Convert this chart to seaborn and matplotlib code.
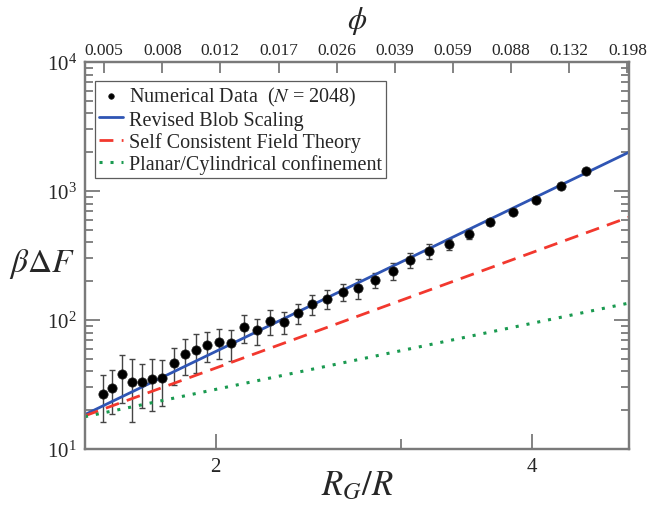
import matplotlib
matplotlib.use("Agg")
import matplotlib.pyplot as plt
import seaborn as sns
import numpy as np
import pandas as pd
from matplotlib.ticker import FixedLocator, NullLocator, FixedFormatter, NullFormatter, LogLocator

# ---------------- data ----------------
rg_r = [1.562, 1.595, 1.629, 1.664, 1.701, 1.740, 1.779, 1.825, 1.869, 1.916,
        1.962, 2.016, 2.068, 2.128, 2.188, 2.251, 2.321, 2.395, 2.470, 2.552,
        2.641, 2.733, 2.837, 2.947, 3.062, 3.190, 3.333, 3.485, 3.648, 3.832,
        4.033, 4.257, 4.499]
dF = [26.7, 29.7, 38.1, 33.1, 33.1, 34.7, 35.3, 46.2, 54.5, 58.5,
      63.7, 67.9, 66.3, 87.8, 83.2, 98.2, 96.5, 112.7, 133.0, 146.3,
      165.4, 176.1, 204.2, 238.5, 293.4, 344.5, 388.2, 466.7, 578.1, 687.5,
      851.5, 1087.5, 1421.0]
dF_err = [10.6, 11.0, 15.5, 17.0, 12.3, 15.0, 13.7, 15.0, 17.0, 20.0,
          16.6, 18.0, 18.0, 22.0, 19.0, 22.0, 19.0, 20.0, 23.0, 25.0,
          26.0, 30.0, 27.0, 36.0, 40.0, 45.0, 38.0, 40.0, 30.0, 28.0,
          30.0, 30.0, 35.0]

line_x = [1.502, 4.946]
blob_y = [18.5, 2005.0]
scft_y = [18.1, 628.0]
planar_y = [17.8, 135.5]

phi_labels = ["0.005", "0.008", "0.012", "0.017", "0.026", "0.039",
              "0.059", "0.088", "0.132", "0.198"]
phi_pos = [1.566, 1.779, 2.020, 2.295, 2.606, 2.960, 3.362, 3.819, 4.337, 4.926]

legend_labels = ["Numerical Data  ($N$ = 2048)", "Revised Blob Scaling",
                 "Self Consistent Field Theory", "Planar/Cylindrical confinement"]

# ---------------- style ----------------
sns.set_style("ticks")
plt.rcParams["font.family"] = ["Liberation Serif", "DejaVu Serif"]
plt.rcParams["mathtext.fontset"] = "stix"

frame_col = "#7a7a7a"
fig = plt.figure(figsize=(6.52, 5.06), dpi=100)
ax = fig.add_axes([85/652, 56/506, 544.3/652, 387/506])

df = pd.DataFrame({"x": rg_r, "y": dF, "err": dF_err})
lines = pd.DataFrame({"x": line_x, "blob": blob_y, "scft": scft_y, "planar": planar_y})

ax.errorbar(df["x"], df["y"], yerr=df["err"], fmt="none", ecolor="#444444",
            elinewidth=1.0, capsize=2.5, capthick=1.0, zorder=2)
sns.lineplot(data=lines, x="x", y="blob", ax=ax, color="#2f55b4", lw=2.0,
             label=legend_labels[1], zorder=3)
sns.lineplot(data=lines, x="x", y="scft", ax=ax, color="#f2382e", lw=2.0,
             label=legend_labels[2], zorder=3)
sns.lineplot(data=lines, x="x", y="planar", ax=ax, color="#1a9a50", lw=2.2,
             label=legend_labels[3], zorder=3)
ax.lines[-2].set_dashes([5, 3])
ax.lines[-1].set_dashes([1, 2.6])
sns.scatterplot(data=df, x="x", y="y", ax=ax, color="black", s=45,
                edgecolor="#222222", linewidth=0.5, zorder=4,
                label=legend_labels[0])

ax.set_xscale("log")
ax.set_yscale("log")
ax.set_xlim(line_x[0], line_x[1])
ax.set_ylim(10, 1e4)

ax.xaxis.set_major_locator(FixedLocator([2, 4]))
ax.xaxis.set_major_formatter(FixedFormatter(["2", "4"]))
ax.xaxis.set_minor_locator(FixedLocator([3]))
ax.xaxis.set_minor_formatter(NullFormatter())
ax.yaxis.set_major_locator(LogLocator(base=10, numticks=10))
ax.yaxis.set_minor_locator(LogLocator(base=10, subs=np.arange(2, 10), numticks=10))
ax.yaxis.set_minor_formatter(NullFormatter())

ax.tick_params(axis="both", which="major", direction="in", length=11, width=1.3,
               color=frame_col, labelsize=15, pad=6)
ax.tick_params(axis="both", which="minor", direction="in", length=6, width=1.3,
               color=frame_col)
ax.tick_params(axis="y", which="both", right=True, left=True)
ax.tick_params(axis="x", which="both", top=False)
ax.tick_params(axis="x", which="minor", length=7)
for s in ax.spines.values():
    s.set_color(frame_col)
    s.set_linewidth(1.6)

ax.set_xlabel(r"$R_G/R$", fontsize=25, va="top")
ax.xaxis.set_label_coords(0.5, -0.052)
ax.set_ylabel(r"$\beta\Delta F$", fontsize=24, rotation=0, ha="center", va="center")
ax.yaxis.set_label_coords(-0.079, 0.48)

ax2 = ax.twiny()
ax2.set_xscale("log")
ax2.set_xlim(ax.get_xlim())
ax2.xaxis.set_major_locator(FixedLocator(phi_pos))
ax2.xaxis.set_major_formatter(FixedFormatter(phi_labels))
ax2.xaxis.set_minor_locator(NullLocator())
ax2.tick_params(axis="x", which="major", direction="in", length=8, width=1.3,
                color=frame_col, labelsize=12.5, pad=3)
for s in ax2.spines.values():
    s.set_color(frame_col)
    s.set_linewidth(1.6)
ax2.set_xlabel(r"$\phi$", fontsize=22, labelpad=10)

h, l = ax.get_legend_handles_labels()
order = [l.index(t) for t in legend_labels]
leg = ax.legend([h[i] for i in order], [l[i] for i in order], loc="upper left",
                bbox_to_anchor=(0.018, 0.951), borderaxespad=0, fontsize=14.5,
                frameon=True, fancybox=False, edgecolor="#333333",
                handlelength=1.2, handletextpad=0.3, labelspacing=0.12,
                borderpad=0.2, markerscale=0.6)
leg.get_frame().set_linewidth(0.9)

fig.savefig("out.png", dpi=100)
